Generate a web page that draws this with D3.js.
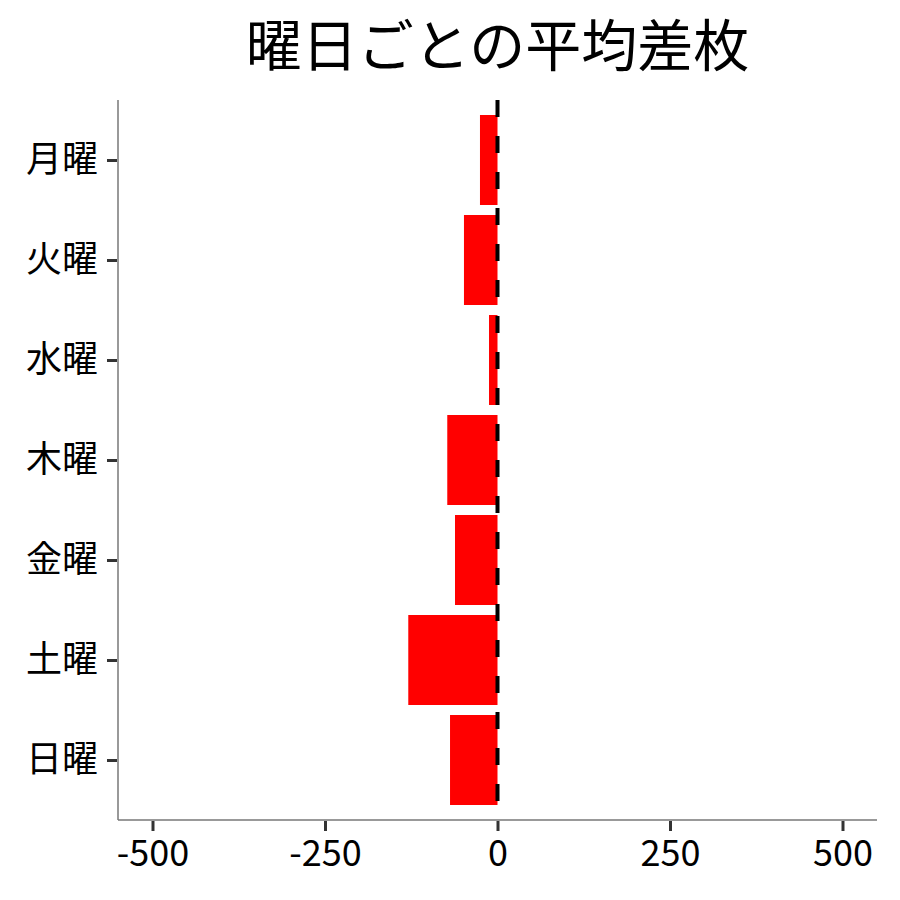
<!DOCTYPE html>
<html>
<head>
<meta charset="utf-8">
<script src="https://cdn.jsdelivr.net/npm/d3@7"></script>
<style>
  body { margin: 0; background: #fff; }
  text { font-family: "Noto Sans CJK JP", "Noto Sans", sans-serif; }
</style>
</head>
<body>
<div id="chart"></div>
<script>
var days = ["月曜", "火曜", "水曜", "木曜", "金曜", "土曜", "日曜"];
var avgDiff = [-25.4, -48.6, -12.3, -72.8, -61.6, -129.3, -68.8];
var xTicks = [-500, -250, 0, 250, 500];
var chartTitle = "曜日ごとの平均差枚";

var data = days.map(function (d, i) { return { day: d, value: avgDiff[i] }; });

var W = 900, H = 900;
var margin = { top: 100, left: 118, bottom: 80, right: 23 };
var width = W - margin.left - margin.right,
    height = H - margin.top - margin.bottom;

var svg = d3.select('#chart').append('svg')
    .attr('width', W)
    .attr('height', H)
    .style('background', '#fff');

var g = svg.append('g')
    .attr('transform', 'translate(' + margin.left + ',' + margin.top + ')');

var x = d3.scaleLinear().domain([-550, 550]).range([0, width]);
// ggplot style discrete expansion: 0.6 band on each side
var y = d3.scalePoint().domain(days).range([0, height]).padding(0.6);
var step = y.step();

// bars
g.selectAll('.bar')
    .data(data)
    .enter().append('rect')
    .attr('class', 'bar')
    .attr('x', function (d) { return x(Math.min(0, d.value)); })
    .attr('y', function (d) { return y(d.day) - step * 0.45; })
    .attr('width', function (d) { return Math.abs(x(d.value) - x(0)); })
    .attr('height', step * 0.9)
    .attr('fill', '#ff0000');

// zero line
g.append('line')
    .attr('x1', x(0)).attr('x2', x(0))
    .attr('y1', 0).attr('y2', height)
    .attr('stroke', '#000')
    .attr('stroke-width', 4)
    .attr('stroke-dasharray', '17,19');

// x axis
var xAxis = d3.axisBottom(x).tickValues(xTicks).tickSize(11).tickPadding(9)
    .tickFormat(function (d) { return String(d); });
var gx = g.append('g')
    .attr('transform', 'translate(0,' + height + ')')
    .call(xAxis);
gx.select('.domain').attr('stroke', '#777').attr('stroke-width', 1.5)
    .attr('d', 'M0,0H' + width);
gx.selectAll('.tick line').attr('stroke', '#333').attr('stroke-width', 3).attr('y1', 1);
gx.selectAll('.tick text')
    .attr('fill', '#000')
    .style('font-size', '36px');

// y axis
var yAxis = d3.axisLeft(y).tickSize(11).tickPadding(9);
var gy = g.append('g').call(yAxis);
gy.select('.domain').attr('stroke', '#777').attr('stroke-width', 1.5)
    .attr('d', 'M0,0V' + height);
gy.selectAll('.tick line').attr('stroke', '#333').attr('stroke-width', 3).attr('x1', -1);
gy.selectAll('.tick text')
    .attr('fill', '#000')
    .style('font-size', '36px');

// title
svg.append('text')
    .attr('x', margin.left + width / 2)
    .attr('y', 66)
    .attr('text-anchor', 'middle')
    .style('font-size', '56px')
    .text(chartTitle);
</script>
</body>
</html>
